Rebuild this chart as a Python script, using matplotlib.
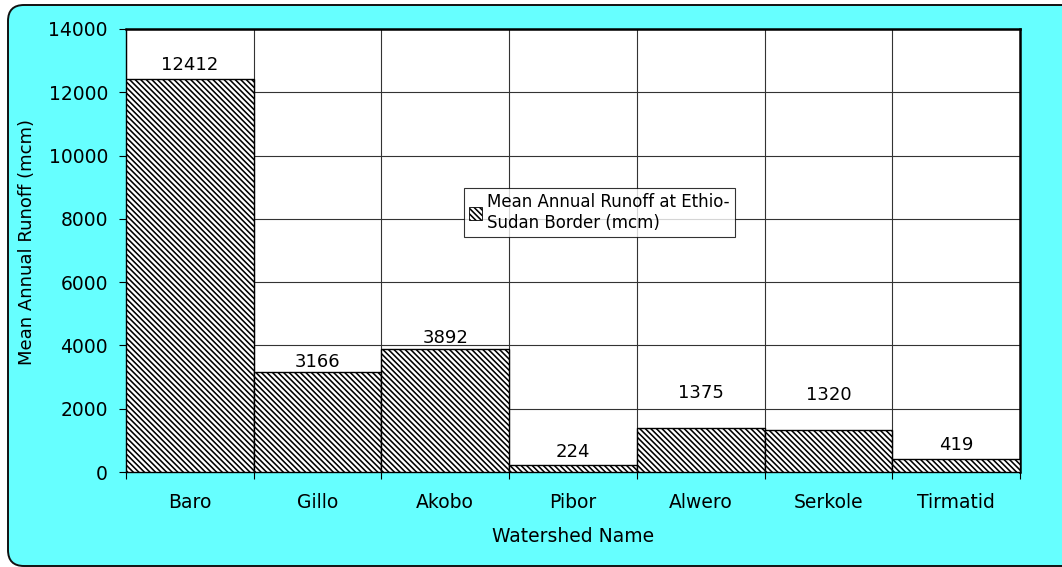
import matplotlib.pyplot as plt
from matplotlib.patches import FancyBboxPatch, Patch

plt.rcParams['font.family'] = ['DejaVu Sans']
plt.rcParams['hatch.linewidth'] = 1.15

watersheds = ['Baro', 'Gillo', 'Akobo', 'Pibor', 'Alwero', 'Serkole', 'Tirmatid']
runoff = [12412, 3166, 3892, 224, 1375, 1320, 419]
# how far above each bar the value label sits, in pixels
label_lift = [14, 10, 11, 13, 35, 35, 14]

W, H = 1062, 567
fig = plt.figure(figsize=(W / 100, H / 100), dpi=100)
fig.patch.set_facecolor('white')

# rounded cyan chart area (runs off the right and bottom edges)
frame = FancyBboxPatch((0.08, 0.01), 10.8, 5.61,
                       boxstyle='round,pad=0,rounding_size=0.16',
                       transform=fig.dpi_scale_trans, facecolor='#66ffff',
                       edgecolor='#111111', linewidth=1.4, zorder=-5)
fig.patches.append(frame)

ax = fig.add_axes([126 / W, 1 - 472 / H, 894 / W, 443 / H])
ax.set_zorder(2)
ax.set_facecolor('white')

x = range(len(watersheds))
ax.bar(x, runoff, width=1.0, color='white', edgecolor='black',
       hatch='\\\\\\\\\\\\', linewidth=1.0, zorder=3)

for i, v in enumerate(runoff):
    ax.annotate(str(v), (i, v), xytext=(0, label_lift[i] * 0.72),
                textcoords='offset points', ha='center', va='center',
                fontsize=13, zorder=4)

ax.set_xlim(-0.5, len(watersheds) - 0.5)
ax.set_ylim(0, 14000)
ax.set_yticks(range(0, 14001, 2000))
ax.set_xticks(x)
ax.set_xticklabels(watersheds)
ax.set_xticks([i - 0.5 for i in range(len(watersheds) + 1)], minor=True)

ax.tick_params(axis='x', which='major', length=0, pad=15, labelsize=13.5)
ax.tick_params(axis='x', which='minor', length=5, width=0.8, direction='out')
ax.tick_params(axis='y', length=5, width=0.8, pad=8, labelsize=13.5)

ax.yaxis.grid(True, color='#333333', linewidth=0.8, zorder=0)
ax.xaxis.grid(True, which='minor', color='#333333', linewidth=0.8, zorder=0)
ax.set_axisbelow(True)

for side in ['left', 'bottom']:
    ax.spines[side].set_linewidth(1.0)
for side in ['top', 'right']:
    ax.spines[side].set_linewidth(1.8)

ax.set_xlabel('Watershed Name', fontsize=13.5)
ax.xaxis.set_label_coords(0.5, -0.124)
ax.set_ylabel('Mean Annual Runoff (mcm)', fontsize=13)
ax.yaxis.set_label_coords(-0.101, 0.52)

handle = Patch(facecolor='white', edgecolor='black', hatch='\\\\\\\\\\\\', linewidth=0.6)
leg = ax.legend([handle], ['Mean Annual Runoff at Ethio-\nSudan Border (mcm)'],
                loc='center', bbox_to_anchor=(0.5296, 0.586), fontsize=12,
                frameon=True, fancybox=False, edgecolor='black',
                handlelength=0.8, handleheight=0.8, handletextpad=0.3,
                borderpad=0.3, borderaxespad=0, labelspacing=0.2)
leg.get_frame().set_linewidth(0.8)
leg.set_zorder(5)

fig.savefig('out.png', dpi=100, facecolor=fig.get_facecolor())
